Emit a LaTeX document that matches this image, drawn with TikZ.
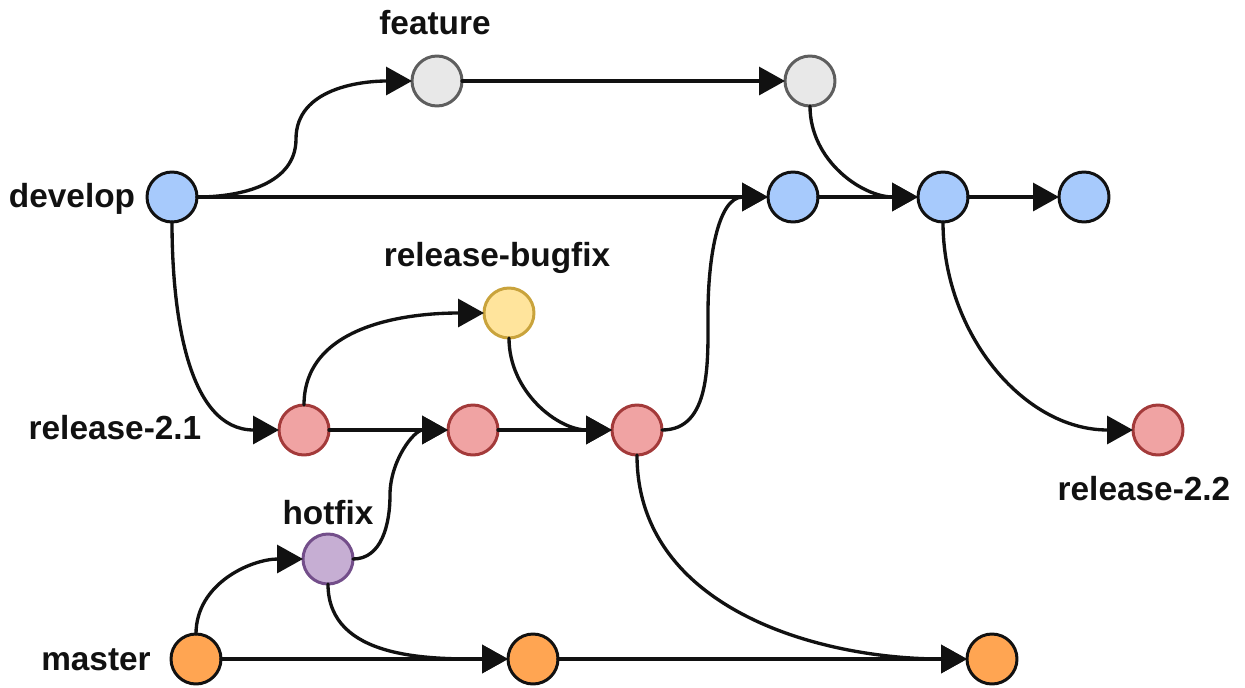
\documentclass[tikz,border=0pt]{standalone}
\usepackage{fontspec}
\setmainfont{Liberation Sans}
\usepackage{xcolor}
\usepackage{tikz}
\usetikzlibrary{arrows.meta}
\definecolor{gfInk}{HTML}{111111}
\definecolor{gfDevelop}{HTML}{A7CAFC}
\definecolor{gfFeature}{HTML}{E8E8E8}
\definecolor{gfFeatureLine}{HTML}{5E5E5E}
\definecolor{gfBugfix}{HTML}{FFE49C}
\definecolor{gfBugfixLine}{HTML}{C9A33C}
\definecolor{gfRelease}{HTML}{F0A3A3}
\definecolor{gfReleaseLine}{HTML}{A33A3A}
\definecolor{gfHotfix}{HTML}{C6AED3}
\definecolor{gfHotfixLine}{HTML}{734E8A}
\definecolor{gfMaster}{HTML}{FFA552}
\tikzset{
  gf diagram/.style={font=\bfseries\fontsize{19}{23}\selectfont, text=gfInk,
    line cap=round, line join=round},
  gf commit/.style={circle, minimum size=1cm, inner sep=0pt, outer sep=0pt,
    line width=1.7pt},
  gf develop/.style={gf commit, draw=gfInk, fill=gfDevelop},
  gf feature/.style={gf commit, draw=gfFeatureLine, fill=gfFeature},
  gf bugfix/.style={gf commit, draw=gfBugfixLine, fill=gfBugfix},
  gf release/.style={gf commit, draw=gfReleaseLine, fill=gfRelease},
  gf hotfix/.style={gf commit, draw=gfHotfixLine, fill=gfHotfix},
  gf master/.style={gf commit, draw=gfInk, fill=gfMaster},
  gf arrow/.style={-{Triangle[length=5.2mm,width=5.6mm]}, draw=gfInk, line width=1.9pt},
  gf label/.style={inner sep=0pt}
}

\begin{document}
\begin{tikzpicture}[gf diagram, x=0.02cm, y=-0.02cm]
\useasboundingbox (0,0) rectangle (1245,687);
% commits
\node[gf develop] (dev0) at (172,197) {};
\node[gf develop] (dev1) at (793,197) {};
\node[gf develop] (dev2) at (943,197) {};
\node[gf develop] (dev3) at (1084,197) {};
\node[gf feature] (feat1) at (437,81) {};
\node[gf feature] (feat2) at (810,81) {};
\node[gf bugfix] (fix) at (509,313) {};
\node[gf release] (rel1) at (304,430) {};
\node[gf release] (rel2) at (473,430) {};
\node[gf release] (rel3) at (637,430) {};
\node[gf release] (rel22) at (1158,430) {};
\node[gf hotfix] (hot) at (328,559) {};
\node[gf master] (mst1) at (196,659) {};
\node[gf master] (mst2) at (533,659) {};
\node[gf master] (mst3) at (992,659) {};
% branch names
\node[gf label] (featname) at (435,23) {feature};
\node[gf label] (devname) at (72,199) {develop};
\node[gf label] (fixname) at (497,258) {release-bugfix};
\node[gf label] (relname) at (115,428) {release-2.1};
\node[gf label] (rel22name) at (1144,489) {release-2.2};
\node[gf label] (hotname) at (328,513) {hotfix};
\node[gf label] (mstname) at (96,660) {master};
% straight links
\draw[gf arrow] (dev0) -- (dev1);
\draw[gf arrow] (dev1) -- (dev2);
\draw[gf arrow] (dev2) -- (dev3);
\draw[gf arrow] (feat1) -- (feat2);
\draw[gf arrow] (rel1) -- (rel2);
\draw[gf arrow] (rel2) -- (rel3);
\draw[gf arrow] (mst1) -- (mst2);
\draw[gf arrow] (mst2) -- (mst3);
% branching and merging
\draw[gf arrow] (dev0.east) to[out=0,in=-90] (296,139) to[out=90,in=180] (feat1.west);
\draw[gf arrow] (feat2.south) to[out=-90,in=180] (dev2.west);
\draw[gf arrow] (dev0.south) to[out=-90,in=180] (rel1.west);
\draw[gf arrow] (rel1.north) to[out=90,in=180] (fix.west);
\draw[gf arrow] (fix.south) to[out=-90,in=180] (rel3.west);
\draw[gf arrow] (rel3.east) to[out=0,in=-90] (708,313) to[out=90,in=180] (dev1.west);
\draw[gf arrow] (dev2.south) to[out=-90,in=180] (rel22.west);
\draw[gf arrow] (rel3.south) to[out=-90,in=180] (mst3.west);
\draw[gf arrow] (mst1.north) to[out=90,in=180] (hot.west);
\draw[gf arrow] (hot.east) to[out=0,in=-90] (390,495) to[out=90,in=180] (rel2.west);
\draw[gf arrow] (hot.south) to[out=-90,in=180] (mst2.west);
\end{tikzpicture}
\end{document}
